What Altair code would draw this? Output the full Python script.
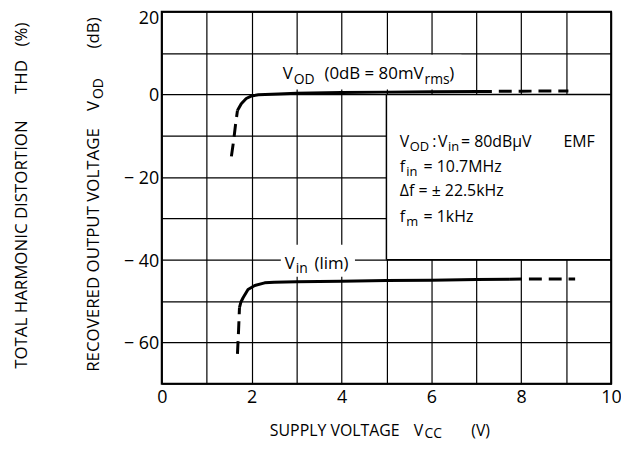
import altair as alt
import pandas as pd

FONT = "Open Sans"

# ---- curve data (supply voltage V, level dB) ----
vod_lo_v = [1.55, 1.60, 1.64, 1.685]
vod_lo_db = [-15.0, -11.2, -7.5, -3.9]
vod_v = [1.685, 1.77, 1.88, 1.99, 2.15, 2.30, 2.6, 3.0, 4.0, 5.0, 6.0, 7.06]
vod_db = [-3.9, -2.25, -1.0, -0.4, -0.1, 0.0, 0.12, 0.25, 0.45, 0.55, 0.65, 0.7]
vod_hi_v = [7.06, 8.0, 9.05]
vod_hi_db = [0.7, 0.78, 0.82]

vin_lo_v = [1.685, 1.71, 1.73]
vin_lo_db = [-62.8, -57.0, -51.6]
vin_v = [1.73, 1.76, 1.81, 1.92, 2.07, 2.29, 2.5, 3.0, 4.0, 5.0, 6.0, 7.0, 7.73]
vin_db = [-51.6, -50.3, -49.2, -47.2, -46.25, -45.6, -45.45, -45.35, -45.2, -45.05, -44.95, -44.8, -44.7]
vin_hi_v = [7.73, 8.5, 9.2]
vin_hi_db = [-44.7, -44.65, -44.65]

x_ticks = list(range(0, 11))
y_ticks = list(range(-70, 21, 10))

rows = []
for seg, style, vs, ds in [
    ("vod_lo", "dash", vod_lo_v, vod_lo_db),
    ("vod", "solid", vod_v, vod_db),
    ("vod_hi", "dash", vod_hi_v, vod_hi_db),
    ("vin_lo", "dash", vin_lo_v, vin_lo_db),
    ("vin", "solid", vin_v, vin_db),
    ("vin_hi", "dash", vin_hi_v, vin_hi_db),
]:
    for i, (v, d) in enumerate(zip(vs, ds)):
        rows.append({"seg": seg, "style": style, "i": i, "v": v, "db": d})
curves = pd.DataFrame(rows)

# white panels (condition box and label backgrounds)
panels = pd.DataFrame({
    "v1": [5, 2.63, 2.65], "v2": [10, 6.67, 4.30],
    "d1": [-40, 1.2, -44.1], "d2": [0, 9.6, -36.4],
})
edges = pd.DataFrame({
    "v1": [5, 5, 5], "v2": [5, 10, 10],
    "d1": [-40, 0, -40], "d2": [0, 0, -40],
})
frame = pd.DataFrame({"v1": [0], "v2": [10], "d1": [-70], "d2": [20]})

ann = pd.DataFrame([
    ("V", 2.693, 3.67, 17), ("OD", 2.936, 2.40, 14), ("(0dB = 80mV", 3.62, 3.67, 17),
    ("rms", 5.85, 2.40, 14), (")", 6.40, 3.67, 17),
    ("V", 5.298, -12.65, 16), ("OD", 5.519, -13.61, 13), (":", 6.02, -12.65, 16),
    ("V", 6.15, -12.65, 16), ("in", 6.37, -13.61, 13), ("= 80dBμV", 6.66, -12.65, 16),
    ("EMF", 8.94, -12.65, 16),
    ("f", 5.298, -18.89, 16), ("in", 5.442, -19.85, 13), ("= 10.7MHz", 5.828, -18.89, 16),
    ("Δf = ± 22.5kHz", 5.298, -24.6, 16),
    ("f", 5.298, -30.89, 16), ("m", 5.442, -31.85, 13), ("= 1kHz", 5.828, -30.89, 16),
    ("V", 2.737, -42.17, 17), ("in", 2.98, -43.13, 14), ("(lim)", 3.40, -42.17, 17),
], columns=["t", "v", "db", "fs"])

sx = alt.Scale(domain=[0, 10], nice=False, zero=False)
sy = alt.Scale(domain=[-70, 20], nice=False, zero=False)

xaxis = alt.Axis(values=x_ticks, grid=True, gridColor="black", gridWidth=1.2, gridOpacity=1,
                 ticks=False, domain=False, title=None, labelFlush=False,
                 labelExpr="datum.value % 2 == 0 ? '' + datum.value : ''",
                 labelFont=FONT, labelFontSize=18, labelColor="black", labelPadding=5)
yaxis = alt.Axis(values=y_ticks, grid=True, gridColor="black", gridWidth=1.2, gridOpacity=1,
                 ticks=False, domain=False, title=None, labelFlush=False,
                 labelExpr="datum.value % 20 == 0 ? (datum.value < 0 ? '\u2212 ' + abs(datum.value) : '' + datum.value) : ''",
                 labelFont=FONT, labelFontSize=18, labelColor="black", labelPadding=3,
                 labelOffset={"condition": {"test": "datum.value == 20", "value": 7}, "value": 1.5})


def X(f):
    return alt.X(f, scale=sx, axis=xaxis)


def Y(f):
    return alt.Y(f, scale=sy, axis=yaxis)


base_panels = alt.Chart(panels).mark_rect(color="white").encode(
    x=X("v1:Q"), x2="v2:Q", y=Y("d1:Q"), y2="d2:Q")

edge_layer = alt.Chart(edges).mark_rule(color="black", strokeWidth=1.5).encode(
    x=X("v1:Q"), x2="v2:Q", y=Y("d1:Q"), y2="d2:Q")

solid = alt.Chart(curves).transform_filter("datum.style == 'solid'").mark_line(
    color="black", strokeWidth=3, strokeJoin="round").encode(
    x=X("v:Q"), y=Y("db:Q"), detail="seg:N", order="i:Q")
dashed = alt.Chart(curves).transform_filter("datum.style == 'dash'").mark_line(
    color="black", strokeWidth=3, strokeDash=[13, 7]).encode(
    x=X("v:Q"), y=Y("db:Q"), detail="seg:N", order="i:Q")

frame_layer = alt.Chart(frame).mark_rect(fillOpacity=0, stroke="black", strokeWidth=2).encode(
    x=X("v1:Q"), x2="v2:Q", y=Y("d1:Q"), y2="d2:Q")

ann_layer = alt.Chart(ann).mark_text(align="left", baseline="alphabetic", font=FONT, color="black").encode(
    x=X("v:Q"), y=Y("db:Q"), text="t:N", size=alt.Size("fs:Q", scale=None, legend=None))

layers = [base_panels, edge_layer, solid, dashed, frame_layer, ann_layer]

# axis titles (pixel offsets from plot origin)
rot_titles = [
    ("TOTAL HARMONIC DISTORTION", -136, 360, 17), ("THD", -136, 83, 17), ("(%)", -136, 35, 17),
    ("RECOVERED OUTPUT VOLTAGE", -63, 363, 17), ("V", -63, 100, 17), ("OD", -59, 88, 14),
    ("(dB)", -63, 37, 17),
]
x_titles = [
    ("SUPPLY VOLTAGE", 109, 428, 16), ("V", 254, 428, 16), ("CC", 265, 430, 14), ("(V)", 312, 428, 16),
]
for t, px, py, fs in rot_titles:
    layers.append(alt.Chart(pd.DataFrame({"t": [t]})).mark_text(
        align="left", baseline="alphabetic", angle=270, font=FONT, fontSize=fs, color="black").encode(
        x=alt.value(px), y=alt.value(py), text="t:N"))
for t, px, py, fs in x_titles:
    layers.append(alt.Chart(pd.DataFrame({"t": [t]})).mark_text(
        align="left", baseline="alphabetic", font=FONT, fontSize=fs, color="black").encode(
        x=alt.value(px), y=alt.value(py), text="t:N"))

chart = alt.layer(*layers).properties(
    width=453, height=375,
    autosize=alt.AutoSizeParams(type="none"),
    padding={"left": 155, "top": 2, "right": 10, "bottom": 56},
    background="white",
).configure_view(stroke=None)

chart.save("out.html", embed_options={"renderer": "svg", "actions": False})
